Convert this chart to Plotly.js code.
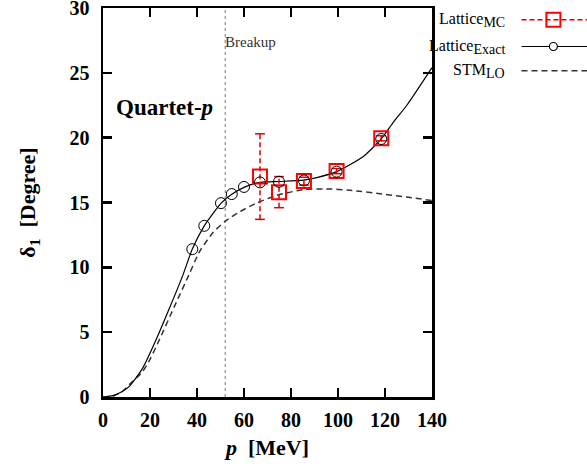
<!DOCTYPE html>
<html>
<head>
<meta charset="utf-8">
<script src="https://cdn.plot.ly/plotly-3.0.1.min.js"></script>
<style>html,body{margin:0;padding:0;background:#fff;}#chart{width:587px;height:469px;}</style>
</head>
<body>
<div id="chart"></div>
<script>
// Lattice (exact) points
const exactX = [38.0, 43.1, 50.2, 54.8, 60.0, 66.8, 74.9, 85.5, 99.4, 118.4];
const exactY = [11.4, 13.2, 14.95, 15.65, 16.2, 16.55, 16.6, 16.7, 17.38, 19.9];
// Lattice (Monte Carlo) points with errors
const mcX = [66.8, 74.9, 85.5, 99.4, 118.4];
const mcY = [17.0, 15.8, 16.65, 17.42, 19.95];
const mcErr = [3.3, 1.2, 0.3, 0.2, 0.2];
// Solid curve through exact lattice results
const curveX = [0, 4.2, 8, 11.2, 16.9, 22.6, 28.3, 34, 38.0, 43.1, 50.2, 54.8, 60, 66.8, 74.9, 85.3, 91, 99.4, 103.7, 110.8, 118.4, 123.6, 129.3, 140];
const curveY = [0, 0.1, 0.4, 0.82, 2.23, 4.42, 6.86, 9.4, 11.41, 13.2, 14.93, 15.63, 16.17, 16.55, 16.62, 16.72, 16.92, 17.38, 17.78, 18.55, 19.9, 21.2, 22.5, 25.4];
// STM LO curve
const stmX = [0, 4, 8, 12, 16.9, 20, 24, 30.4, 36.5, 41.2, 46.9, 51.9, 58.3, 65.4, 73.9, 85.6, 95, 105, 118.7, 130, 140];
const stmY = [0, 0.05, 0.4, 1.1, 1.97, 2.9, 4.42, 6.99, 9.4, 11.25, 12.7, 13.54, 14.3, 14.96, 15.55, 16.0, 16.05, 15.95, 15.65, 15.4, 15.15];
// Breakup threshold
const breakupX = 52;
const yRange = [0, 30];
const xRange = [0, 140];
const xTicks = [0, 20, 40, 60, 80, 100, 120, 140];
const yTicks = [0, 5, 10, 15, 20, 25, 30];

const FONT = 'Liberation Serif';

// error bar segments built from data
const ebX = [], ebY = [], capX = [], capY = [];
for (let i = 0; i < mcX.length; i++) {
  ebX.push(mcX[i], mcX[i], null);
  ebY.push(mcY[i] - mcErr[i], mcY[i] + mcErr[i], null);
  capX.push(mcX[i], mcX[i]);
  capY.push(mcY[i] - mcErr[i], mcY[i] + mcErr[i]);
}

const traces = [
  {x: [breakupX, breakupX], y: yRange, mode: 'lines', line: {color: '#777', width: 1, dash: 'dot'}, showlegend: false, hoverinfo: 'skip'},
  {x: stmX, y: stmY, mode: 'lines', line: {color: '#333', width: 1.5, dash: '6px,4px', shape: 'spline', smoothing: 0.6}, name: 'STM LO', showlegend: false},
  {x: curveX, y: curveY, mode: 'lines', line: {color: '#000', width: 1.2, shape: 'spline', smoothing: 0.6}, name: 'Lattice Exact curve', showlegend: false},
  {x: ebX, y: ebY, mode: 'lines', line: {color: '#e00000', width: 1.5, dash: '5px,3px'}, showlegend: false, hoverinfo: 'skip'},
  {x: capX, y: capY, mode: 'markers', marker: {symbol: 'line-ew-open', size: 7, color: '#e00000', line: {width: 1.5, color: '#e00000'}}, showlegend: false, hoverinfo: 'skip'},
  {x: mcX, y: mcY, mode: 'markers', marker: {symbol: 'square-open', size: 14, color: '#ff0000', line: {width: 2, color: '#ff0000'}}, name: 'Lattice MC', showlegend: false},
  {x: exactX, y: exactY, mode: 'markers', marker: {symbol: 'circle-open', size: 11, color: '#000', line: {width: 1, color: '#000'}}, name: 'Lattice Exact', showlegend: false}
];

// manual legend (symbols on right of text)
const lx0 = 1.272, lx1 = 1.48, lxm = 1.369;
const ly = [0.970, 0.901, 0.839];
const shapes = [
  {type: 'line', xref: 'paper', yref: 'paper', x0: lx0, x1: lx1, y0: ly[0], y1: ly[0], line: {color: '#e00000', width: 1.5, dash: '5px,3px'}},
  {type: 'rect', xref: 'paper', yref: 'paper', xsizemode: 'pixel', ysizemode: 'pixel', xanchor: lxm, yanchor: ly[0], x0: -7, x1: 7, y0: -7, y1: 7, line: {color: '#ff0000', width: 2}, fillcolor: 'rgba(0,0,0,0)'},
  {type: 'line', xref: 'paper', yref: 'paper', x0: lx0, x1: lx1, y0: ly[1], y1: ly[1], line: {color: '#000', width: 1.2}},
  {type: 'circle', xref: 'paper', yref: 'paper', xsizemode: 'pixel', ysizemode: 'pixel', xanchor: lxm, yanchor: ly[1], x0: -4, x1: 4, y0: -4, y1: 4, line: {color: '#000', width: 1.2}, fillcolor: '#fff'},
  {type: 'line', xref: 'paper', yref: 'paper', x0: lx0, x1: lx1, y0: ly[2], y1: ly[2], line: {color: '#333', width: 1.5, dash: '6px,4px'}}
];
const legText = ['Lattice<sub><span style="font-size:14px">MC</span></sub>', 'Lattice<sub><span style="font-size:14px">Exact</span></sub>', 'STM<sub><span style="font-size:14px">LO</span></sub>'];
const annotations = legText.map((t, i) => ({
  text: t, xref: 'paper', yref: 'paper', x: 1.229, y: ly[i], xanchor: 'right', yanchor: 'middle',
  showarrow: false, font: {family: FONT, size: 16, color: '#000'}
}));
annotations.push({text: '<b>Quartet-<i>p</i></b>', xref: 'paper', yref: 'paper', x: 0.034, y: 0.745, xanchor: 'left', yanchor: 'middle', showarrow: false, font: {family: FONT, size: 23, color: '#000'}});
annotations.push({text: 'Breakup', xref: 'x', yref: 'paper', x: breakupX, y: 0.912, xanchor: 'left', yanchor: 'middle', xshift: -2, showarrow: false, font: {family: FONT, size: 15, color: '#333'}});

const axisCommon = {
  showgrid: false, zeroline: false, showline: true, linecolor: '#000', linewidth: 2.5,
  mirror: 'allticks', ticks: 'inside', ticklen: 9, tickwidth: 2.5, tickcolor: '#000',
  ticklabeloverflow: 'allow',
  tickfont: {family: FONT, size: 20, color: '#000', weight: 700}
};

const layout = {
  width: 587, height: 469,
  margin: {l: 103, r: 155, t: 8, b: 72},
  paper_bgcolor: '#fff', plot_bgcolor: '#fff',
  showlegend: false,
  xaxis: Object.assign({}, axisCommon, {range: xRange, tickvals: xTicks, ticktext: xTicks.map(String), ticklabelstandoff: 3,
    title: {text: '<b><i>p</i>  [MeV]</b>', font: {family: FONT, size: 22, color: '#000'}, standoff: 10}}),
  yaxis: Object.assign({}, axisCommon, {range: yRange, tickvals: yTicks, ticktext: yTicks.map(String), ticklabelstandoff: 7,
    title: {text: '<b>δ<sub>1</sub>  [Degree]</b>', font: {family: FONT, size: 22, color: '#000'}, standoff: 28}}),
  shapes: shapes,
  annotations: annotations
};

Plotly.newPlot('chart', traces, layout, {displayModeBar: false, staticPlot: true});
</script>
</body>
</html>
